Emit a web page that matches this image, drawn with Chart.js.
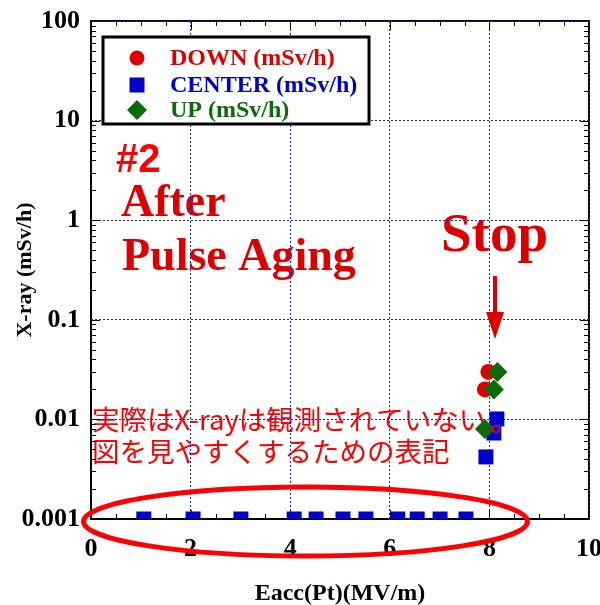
<!DOCTYPE html>
<html>
<head>
<meta charset="utf-8">
<script src="https://cdn.jsdelivr.net/npm/chart.js@4.4.1/dist/chart.umd.min.js"></script>
<style>
  html, body { margin: 0; padding: 0; background: #fff; }
  #wrap { width: 600px; height: 605px; }
</style>
</head>
<body>
<div id="wrap"><canvas id="c" width="600" height="605"></canvas></div>
<script>
// Axis ticks
const X_TICKS = [0, 2, 4, 6, 8, 10];
const Y_TICKS = [0.001, 0.01, 0.1, 1, 10, 100];
const Y_TICK_LABELS = ['0.001', '0.01', '0.1', '1', '10', '100'];

// Series names
const SERIES_LABELS = ['DOWN (mSv/h)', 'CENTER (mSv/h)', 'UP (mSv/h)'];

// Measured dose rates vs Eacc
const DOWN_X = [7.91, 7.98];
const DOWN_Y = [0.02, 0.03];
const CENTER_X = [1.06, 2.05, 3.01, 4.08, 4.52, 5.06, 5.52, 6.16, 6.55, 7.01, 7.53, 7.93, 8.09, 8.15];
const CENTER_Y = [0.001, 0.001, 0.001, 0.001, 0.001, 0.001, 0.001, 0.001, 0.001, 0.001, 0.001, 0.0042, 0.0073, 0.0101];
const UP_X = [7.91, 8.09, 8.16];
const UP_Y = [0.008, 0.02, 0.03];
const DOWN_OPEN_X = [8.13];
const DOWN_OPEN_Y = [0.008];

const RED = '#dd0000';
const BRIGHT_RED = '#ff0000';
const BLUE = '#0000cc';
const GREEN = '#0b6b0b';
const GRID_BLUE = '#1818e0';
const SERIF = '"Liberation Serif", "Times New Roman", serif';

const toPoints = (xs, ys) => xs.map((x, i) => ({ x: x, y: ys[i] }));

// Annotation text placed underneath the grid
const notesBelow = {
  id: 'notesBelow',
  beforeDraw(chart) {
    const ctx = chart.ctx;
    ctx.save();
    ctx.textAlign = 'left';
    ctx.textBaseline = 'alphabetic';
    ctx.fillStyle = BRIGHT_RED;
    ctx.font = 'bold 40px "Liberation Sans", Arial, sans-serif';
    ctx.fillText('#2', 116, 172);
    ctx.fillStyle = RED;
    ctx.font = 'bold 46px ' + SERIF;
    ctx.fillText('After', 121, 216);
    ctx.fillText('Pulse Aging', 122, 270);
    ctx.font = 'bold 55px ' + SERIF;
    ctx.fillText('Stop', 441, 251);
    ctx.fillStyle = BRIGHT_RED;
    ctx.font = '27.5px "Noto Sans CJK JP", sans-serif';
    ctx.textBaseline = 'middle';
    ctx.fillText('実際はX-rayは観測されていない', 92, 420);
    ctx.fillText('図を見やすくするための表記', 92, 452);
    ctx.restore();
  }
};

// Inward tick marks on all four sides
const frameTicks = {
  id: 'frameTicks',
  beforeDatasetsDraw(chart) {
    const ctx = chart.ctx;
    const a = chart.chartArea;
    const xs = chart.scales.x, ys = chart.scales.y;
    ctx.save();
    ctx.strokeStyle = '#000';
    ctx.lineWidth = 1;
    ctx.beginPath();
    // x ticks every 0.5, longer at labelled values
    for (let v = 0.5; v < 10; v += 0.5) {
      const px = Math.round(xs.getPixelForValue(v)) + 0.5;
      const len = (Math.abs(v % 2) < 1e-9) ? 9 : 5;
      ctx.moveTo(px, a.bottom); ctx.lineTo(px, a.bottom - len);
      ctx.moveTo(px, a.top); ctx.lineTo(px, a.top + len);
    }
    // log minor ticks 2..9 in every decade, long at decades
    for (let d = -3; d < 2; d++) {
      for (let m = 1; m <= 9; m++) {
        const v = m * Math.pow(10, d);
        if (m === 1 && d === -3) continue;
        const py = Math.round(ys.getPixelForValue(v)) + 0.5;
        const len = m === 1 ? 9 : 5;
        ctx.moveTo(a.left, py); ctx.lineTo(a.left + len, py);
        ctx.moveTo(a.right, py); ctx.lineTo(a.right - len, py);
      }
    }
    ctx.stroke();
    ctx.restore();
  }
};

// Frame drawn before the grid so the dotted lines show on top/right
const frameBox = {
  id: 'frameBox',
  beforeDraw(chart) {
    const ctx = chart.ctx;
    const a = chart.chartArea;
    ctx.save();
    ctx.strokeStyle = '#000';
    ctx.lineWidth = 2;
    ctx.strokeRect(a.left, a.top, a.right - a.left, a.bottom - a.top);
    ctx.restore();
  }
};

function drawMarker(ctx, style, x, y, r, color) {
  ctx.fillStyle = color;
  ctx.beginPath();
  if (style === 'circle') {
    ctx.arc(x, y, r, 0, Math.PI * 2);
  } else if (style === 'rect') {
    ctx.rect(x - r, y - r, 2 * r, 2 * r);
  } else {
    ctx.moveTo(x - r, y); ctx.lineTo(x, y - r); ctx.lineTo(x + r, y); ctx.lineTo(x, y + r); ctx.closePath();
  }
  ctx.fill();
}

// Boxed legend, ellipse and the Stop arrow, above everything
const notesAbove = {
  id: 'notesAbove',
  afterDraw(chart) {
    const ctx = chart.ctx;
    ctx.save();
    // legend box
    ctx.fillStyle = '#fff';
    ctx.fillRect(103, 37, 266, 87);
    ctx.strokeStyle = '#000';
    ctx.lineWidth = 3;
    ctx.strokeRect(103, 37, 266, 87);
    const styles = ['circle', 'rect', 'rectRot'];
    const sizes = [7.5, 7.5, 10];
    const colors = [RED, BLUE, GREEN];
    const rows = [58, 85, 110];
    ctx.font = 'bold 24px ' + SERIF;
    ctx.textBaseline = 'middle';
    ctx.textAlign = 'left';
    SERIES_LABELS.forEach((lab, i) => {
      drawMarker(ctx, styles[i], 137, rows[i], sizes[i], colors[i]);
      ctx.fillStyle = colors[i];
      ctx.fillText(lab, 170, rows[i] + 1);
    });
    // arrow
    ctx.strokeStyle = RED;
    ctx.fillStyle = RED;
    ctx.lineWidth = 4;
    ctx.beginPath();
    ctx.moveTo(495, 276); ctx.lineTo(495, 318);
    ctx.stroke();
    ctx.beginPath();
    ctx.moveTo(486, 312); ctx.lineTo(504, 312); ctx.lineTo(495, 339); ctx.closePath();
    ctx.fill();
    // ellipse round the placeholder points
    ctx.strokeStyle = BRIGHT_RED;
    ctx.lineWidth = 5;
    ctx.beginPath();
    ctx.ellipse(305.5, 521.5, 222, 34.5, 0, 0, Math.PI * 2);
    ctx.stroke();
    ctx.restore();
  }
};

new Chart(document.getElementById('c'), {
  type: 'scatter',
  data: {
    datasets: [
      { label: SERIES_LABELS[0], data: toPoints(DOWN_X, DOWN_Y), pointStyle: 'circle', pointRadius: 8,
        backgroundColor: RED, borderColor: RED, borderWidth: 0, order: 3 },
      { label: SERIES_LABELS[1], data: toPoints(CENTER_X, CENTER_Y), pointStyle: 'rect', pointRadius: 10.6,
        backgroundColor: BLUE, borderColor: BLUE, borderWidth: 0, order: 2 },
      { label: SERIES_LABELS[2], data: toPoints(UP_X, UP_Y), pointStyle: 'rectRot', pointRadius: 10,
        backgroundColor: GREEN, borderColor: GREEN, borderWidth: 0, order: 1 },
      { label: 'down-open', data: toPoints(DOWN_OPEN_X, DOWN_OPEN_Y), pointStyle: 'circle', pointRadius: 3.5,
        backgroundColor: 'rgba(0,0,0,0)', borderColor: BRIGHT_RED, borderWidth: 1.5, order: 0 }
    ]
  },
  options: {
    responsive: false,
    animation: false,
    devicePixelRatio: 1,
    events: [],
    layout: { padding: { top: 21, right: 11, left: 0, bottom: 0 } },
    plugins: { legend: { display: false }, tooltip: { enabled: false } },
    scales: {
      x: {
        type: 'linear', min: 0, max: 10,
        afterBuildTicks: s => { s.ticks = X_TICKS.map(v => ({ value: v })); },
        afterFit: s => { s.height = 86; s.paddingLeft = 0; s.paddingRight = 0; },
        ticks: { color: '#000', font: { family: SERIF, size: 26, weight: 'bold' }, padding: 15,
                 callback: v => String(v), maxRotation: 0, autoSkip: false },
        grid: { drawTicks: false, lineWidth: 1,
                color: c => (c.tick && c.tick.value === 0) ? 'rgba(0,0,0,0)' : GRID_BLUE },
        border: { display: false, dash: [2, 2] },
        title: { display: true, text: 'Eacc(Pt)(MV/m)', color: '#000',
                 font: { family: SERIF, size: 24, weight: 'bold' }, padding: { top: 15, bottom: -3 } }
      },
      y: {
        type: 'logarithmic', min: 0.001, max: 100,
        afterBuildTicks: s => { s.ticks = Y_TICKS.map(v => ({ value: v })); },
        afterFit: s => { s.width = 91; s.paddingTop = 0; s.paddingBottom = 0; },
        ticks: { color: '#000', font: { family: SERIF, size: 26, weight: 'bold' }, padding: 11,
                 callback: (v, i) => Y_TICK_LABELS[i], autoSkip: false },
        grid: { drawTicks: false, lineWidth: 1,
                color: c => (c.tick && c.tick.value === 0.001) ? 'rgba(0,0,0,0)' : GRID_BLUE },
        border: { display: false, dash: [2, 2] },
        title: { display: true, text: 'X-ray (mSv/h)', color: '#000',
                 font: { family: SERIF, size: 22, weight: 'bold' }, padding: { top: 12, bottom: 0 } }
      }
    }
  },
  plugins: [notesBelow, frameBox, frameTicks, notesAbove]
});
</script>
</body>
</html>
